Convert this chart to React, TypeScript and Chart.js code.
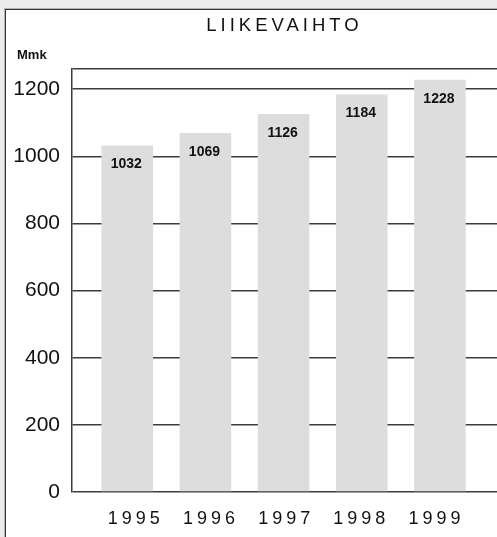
import React, { useEffect, useRef } from 'react';
import { Chart, registerables } from 'chart.js';

Chart.register(...registerables);

const TITLE = 'LIIKEVAIHTO';
const UNIT = 'Mmk';
const YEARS = ['1995', '1996', '1997', '1998', '1999'];
const REVENUE = [1032, 1069, 1126, 1184, 1228];
const Y_TICKS = [0, 200, 400, 600, 800, 1000, 1200];
const Y_MAX = 1260;

const FONT = "'Liberation Sans', Arial, Helvetica, sans-serif";
const INK = '#111111';
const LINE = '#3c3c3c';
const BAR = '#dddddd';

export default function App() {
  const ref = useRef<HTMLCanvasElement>(null);

  useEffect(() => {
    const canvas = ref.current;
    if (!canvas) return;

    const textPlugin = {
      id: 'textPlugin',
      beforeDraw(chart: any) {
        (chart.ctx as any).letterSpacing = '4px';
      },
      afterDatasetsDraw(chart: any) {
        const ctx = chart.ctx as any;
        ctx.letterSpacing = '0px';
        const meta = chart.getDatasetMeta(0);
        ctx.save();
        ctx.font = `bold 14px ${FONT}`;
        ctx.fillStyle = INK;
        ctx.textAlign = 'center';
        ctx.textBaseline = 'middle';
        meta.data.forEach((el: any, i: number) => {
          ctx.fillText(String(REVENUE[i]), el.x - 1, el.y + 19);
        });
        ctx.restore();
      },
      afterDraw(chart: any) {
        const ctx = chart.ctx as any;
        ctx.save();
        ctx.letterSpacing = '0px';
        ctx.font = `bold 13px ${FONT}`;
        ctx.fillStyle = INK;
        ctx.textAlign = 'left';
        ctx.textBaseline = 'middle';
        ctx.fillText(UNIT, 17, chart.chartArea.top - 14);
        ctx.restore();
      },
    };

    const chart = new Chart(canvas, {
      type: 'bar',
      data: {
        datasets: [
          {
            data: REVENUE.map((v, i) => ({ x: i, y: v })),
            backgroundColor: BAR,
            borderWidth: 0,
            categoryPercentage: 1,
            barPercentage: 0.66,
            xAxisID: 'x',
            yAxisID: 'y',
          } as any,
        ],
      },
      options: {
        animation: false,
        responsive: false,
        maintainAspectRatio: false,
        layout: { padding: 0 },
        plugins: {
          legend: { display: false },
          tooltip: { enabled: false },
          title: {
            display: true,
            text: TITLE,
            fullSize: false,
            color: INK,
            font: { family: FONT, size: 18.5, weight: 'normal' as any },
            padding: { top: 15, bottom: 31.8 },
          },
        },
        scales: {
          x: {
            type: 'linear',
            display: false,
            offset: false,
            bounds: 'data',
            min: -0.707,
            max: 4.73,
            afterBuildTicks: (s: any) => {
              s.ticks = YEARS.map((_, i) => ({ value: i }));
            },
          },
          xl: {
            type: 'linear',
            position: 'bottom',
            offset: false,
            bounds: 'data',
            min: -0.848,
            max: 4.804,
            grid: { display: false, offset: false },
            border: { display: false },
            afterBuildTicks: (s: any) => {
              s.ticks = YEARS.map((_, i) => ({ value: i }));
            },
            ticks: {
              callback: (v: any) => YEARS[v] ?? '',
              font: { family: FONT, size: 18 },
              color: INK,
              padding: 8,
              maxRotation: 0,
              autoSkip: false,
            },
            afterFit: (s: any) => {
              s.height = 45;
            },
          },
          y: {
            type: 'linear',
            min: 0,
            max: Y_MAX,
            bounds: 'data',
            afterBuildTicks: (s: any) => {
              s.ticks = [...Y_TICKS, Y_MAX].map((v) => ({ value: v }));
            },
            ticks: {
              callback: (v: any) => (Y_TICKS.includes(v) ? String(v) : ''),
              font: { family: FONT, size: 21 },
              color: INK,
              padding: 12,
              z: 1,
            },
            grid: { color: LINE, lineWidth: 1.5, drawTicks: false, z: -1 },
            border: { color: LINE, width: 1.5 },
            afterFit: (s: any) => {
              s.width = 72;
            },
          },
        } as any,
      },
      plugins: [textPlugin],
    });

    return () => chart.destroy();
  }, []);

  return (
    <div
      style={{
        position: 'fixed',
        left: 0,
        top: 0,
        width: 497,
        height: 537,
        overflow: 'hidden',
        background: '#ececec',
      }}
    >
      <div
        style={{
          position: 'absolute',
          left: 4,
          top: 8,
          width: 600,
          height: 600,
          background: '#ffffff',
          border: '1px solid #b4b4b4',
          boxShadow: 'inset 0 0 0 1px #333333',
        }}
      />
      <canvas
        ref={ref}
        width={497}
        height={537}
        style={{ position: 'absolute', left: 0, top: 0, display: 'block' }}
      />
    </div>
  );
}
